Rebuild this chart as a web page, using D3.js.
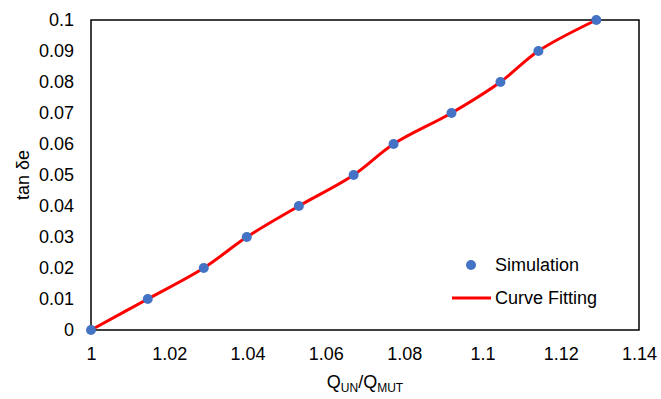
<!DOCTYPE html>
<html>
<head>
<meta charset="utf-8">
<script src="https://cdn.jsdelivr.net/npm/d3@7"></script>
<style>
  body { margin: 0; background: #fff; }
  text { font-family: "Liberation Sans", Arial, sans-serif; fill: #000; }
</style>
</head>
<body>
<div id="chart-area"></div>
<script>
// data
var qRatio = [1, 1.0145, 1.0288, 1.0398, 1.0531, 1.0671, 1.0773, 1.0921, 1.1046, 1.1143, 1.1291];
var tanDe  = [0, 0.01, 0.02, 0.03, 0.04, 0.05, 0.06, 0.07, 0.08, 0.09, 0.1];
var xTicks = [1, 1.02, 1.04, 1.06, 1.08, 1.1, 1.12, 1.14];
var yTicks = [0, 0.01, 0.02, 0.03, 0.04, 0.05, 0.06, 0.07, 0.08, 0.09, 0.1];

var data = qRatio.map(function(q, i){ return { q: q, t: tanDe[i] }; });

var W = 661, H = 399;
var margins = { left: 91, right: 22, top: 20, bottom: 69 };
var width = W - margins.left - margins.right;
var height = H - margins.top - margins.bottom;

var svg = d3.select("#chart-area").append("svg")
    .attr("width", W)
    .attr("height", H);

var g = svg.append("g")
    .attr("transform", "translate(" + margins.left + "," + margins.top + ")");

var x = d3.scaleLinear().domain([1, 1.14]).range([0, width]);
var y = d3.scaleLinear().domain([0, 0.1]).range([height, 0]);

// tick labels (no tick marks, like excel)
var xAxis = g.append("g")
    .attr("transform", "translate(0," + height + ")")
    .call(d3.axisBottom(x).tickValues(xTicks).tickSize(0).tickPadding(17)
        .tickFormat(function(d){ return String(+d.toFixed(2)); }));
xAxis.select(".domain").remove();
xAxis.selectAll("text").attr("font-size", "18px").attr("font-family", null);

var yAxis = g.append("g")
    .call(d3.axisLeft(y).tickValues(yTicks).tickSize(0).tickPadding(17)
        .tickFormat(function(d){ return String(+d.toFixed(2)); }));
yAxis.select(".domain").remove();
yAxis.selectAll("text").attr("font-size", "18px").attr("font-family", null);

// plot frame
g.append("rect")
    .attr("x", 0).attr("y", 0)
    .attr("width", width).attr("height", height)
    .attr("fill", "none")
    .attr("stroke", "#000")
    .attr("stroke-width", 1.5);

// curve fitting line
g.append("path")
    .datum(data)
    .attr("fill", "none")
    .attr("stroke", "#ff0000")
    .attr("stroke-width", 3)
    .attr("d", d3.line()
        .curve(d3.curveCatmullRom.alpha(0.5))
        .x(function(d){ return x(d.q); })
        .y(function(d){ return y(d.t); }));

// simulation points
g.selectAll("circle.pt")
    .data(data)
    .enter().append("circle")
    .attr("class", "pt")
    .attr("cx", function(d){ return x(d.q); })
    .attr("cy", function(d){ return y(d.t); })
    .attr("r", 5)
    .attr("fill", "#4472c4");

// axis titles
var xt = svg.append("text")
    .attr("x", 365).attr("y", 388)
    .attr("text-anchor", "middle")
    .attr("font-size", "18px");
xt.append("tspan").text("Q");
xt.append("tspan").attr("font-size", "12px").attr("dy", 4).text("UN");
xt.append("tspan").attr("dy", -4).text("/Q");
xt.append("tspan").attr("font-size", "12px").attr("dy", 4).text("MUT");

svg.append("text")
    .attr("transform", "translate(29," + (margins.top + height / 2) + ") rotate(-90)")
    .attr("text-anchor", "middle")
    .attr("font-size", "18px")
    .text("tan δe");

// legend
var lg = svg.append("g");
lg.append("circle").attr("cx", 471).attr("cy", 265).attr("r", 5).attr("fill", "#4472c4");
lg.append("text").attr("x", 495).attr("y", 271).attr("font-size", "18px").text("Simulation");
lg.append("line").attr("x1", 452).attr("x2", 491).attr("y1", 298).attr("y2", 298)
    .attr("stroke", "#ff0000").attr("stroke-width", 3);
lg.append("text").attr("x", 495).attr("y", 304).attr("font-size", "18px").text("Curve Fitting");
</script>
</body>
</html>
